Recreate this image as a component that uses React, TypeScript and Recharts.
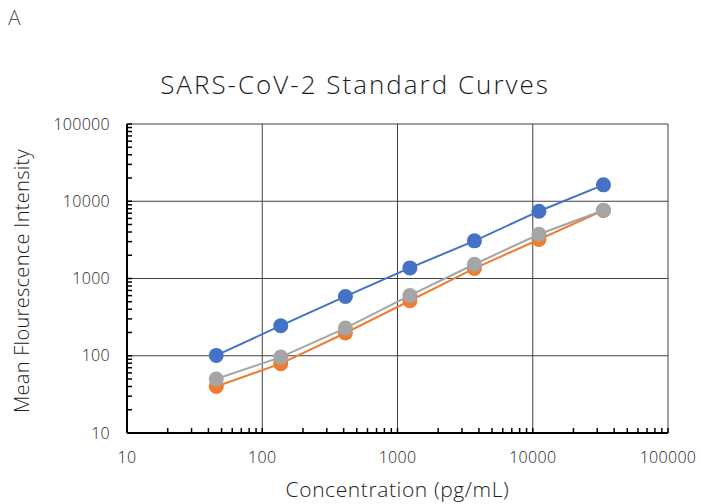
import {
  CartesianGrid,
  Scatter,
  ScatterChart,
  XAxis,
  YAxis,
} from 'recharts'

// pg/mL, 3-fold dilution series
const concentrations = [45.7, 137, 412, 1235, 3704, 11111, 33333]
const blueMfi = [101, 245, 586, 1372, 3070, 7430, 16300]
const orangeMfi = [40, 79, 197, 515, 1350, 3200, 7600]
const grayMfi = [50, 96, 228, 603, 1530, 3740, 7650]

const majorTicks = [10, 100, 1000, 10000, 100000]
const minorSteps = [1, 2, 3, 4, 5, 6, 7, 8, 9]

const xTicks = [10, 100, 1000, 10000].flatMap((d) => minorSteps.map((m) => m * d)).concat([100000])
const yTicks = xTicks

const FONT = '"Open Sans", Lato, sans-serif'
const TEXT = '#1c1c1c'

const toPoints = (ys: number[]) => concentrations.map((x, i) => ({ x, y: ys[i] }))

const dot = (color: string) => (props: any) => (
  <circle cx={props.cx} cy={props.cy} r={7.5} fill={color} />
)

const fmt = (v: number) => (majorTicks.includes(v) ? String(v) : '')

const series = [
  { name: 'blue', color: '#4472C4', data: toPoints(blueMfi) },
  { name: 'orange', color: '#ED7D31', data: toPoints(orangeMfi) },
  { name: 'gray', color: '#A5A5A5', data: toPoints(grayMfi) },
]

const tickStyle = { fill: TEXT, fontSize: 16, fontFamily: FONT, fontWeight: 300, letterSpacing: 0.3 }

export default function App() {
  return (
    <div style={{ position: 'absolute', left: 0, top: 0, width: 701, height: 504, background: '#fff', fontFamily: FONT }}>
      <ScatterChart
        width={701}
        height={504}
        margin={{ top: 124, right: 33, bottom: 0, left: 0 }}
      >
        <CartesianGrid
          stroke="#404040"
          strokeWidth={1}
          horizontalValues={majorTicks}
          verticalValues={majorTicks}
        />
        <XAxis
          type="number"
          dataKey="x"
          scale="log"
          domain={[10, 100000]}
          ticks={xTicks}
          interval={0}
          tickFormatter={fmt}
          tickSize={-5}
          tickMargin={24}
          height={71}
          axisLine={{ stroke: '#000', strokeWidth: 2 }}
          tickLine={{ stroke: '#000', strokeWidth: 1.5 }}
          tick={tickStyle}
          label={{
            value: 'Concentration (pg/mL)',
            position: 'insideBottom',
            offset: 7,
            fill: TEXT,
            fontSize: 21,
            fontFamily: FONT,
            fontWeight: 300,
            letterSpacing: 0.6,
          }}
        />
        <YAxis
          type="number"
          dataKey="y"
          scale="log"
          domain={[10, 100000]}
          ticks={yTicks}
          interval={0}
          tickFormatter={fmt}
          tickSize={-5}
          tickMargin={22}
          width={127}
          axisLine={{ stroke: '#000', strokeWidth: 2 }}
          tickLine={{ stroke: '#000', strokeWidth: 1.5 }}
          tick={tickStyle}
        />
        {series.map((s) => (
          <Scatter
            key={s.name}
            name={s.name}
            data={s.data}
            fill={s.color}
            line={{ stroke: s.color, strokeWidth: 2 }}
            shape={dot(s.color)}
            isAnimationActive={false}
          />
        ))}
      </ScatterChart>
      <svg
        width={701}
        height={504}
        style={{ position: 'absolute', left: 0, top: 0, pointerEvents: 'none' }}
      >
        <text x={8} y={25} fontSize={21} fill="#595959" fontFamily={FONT} fontWeight={300}>A</text>
        <text x={355} y={94} fontSize={26} fill={TEXT} textAnchor="middle" fontFamily={FONT} fontWeight={300} letterSpacing={2}>
          SARS-CoV-2 Standard Curves
        </text>
        <text
          x={29}
          y={281}
          fontSize={20}
          fill={TEXT}
          textAnchor="middle"
          fontFamily={FONT}
          fontWeight={300}
          letterSpacing={0.3}
          transform="rotate(-90 29 281)"
        >
          Mean Flourescence Intensity
        </text>
      </svg>
    </div>
  )
}
